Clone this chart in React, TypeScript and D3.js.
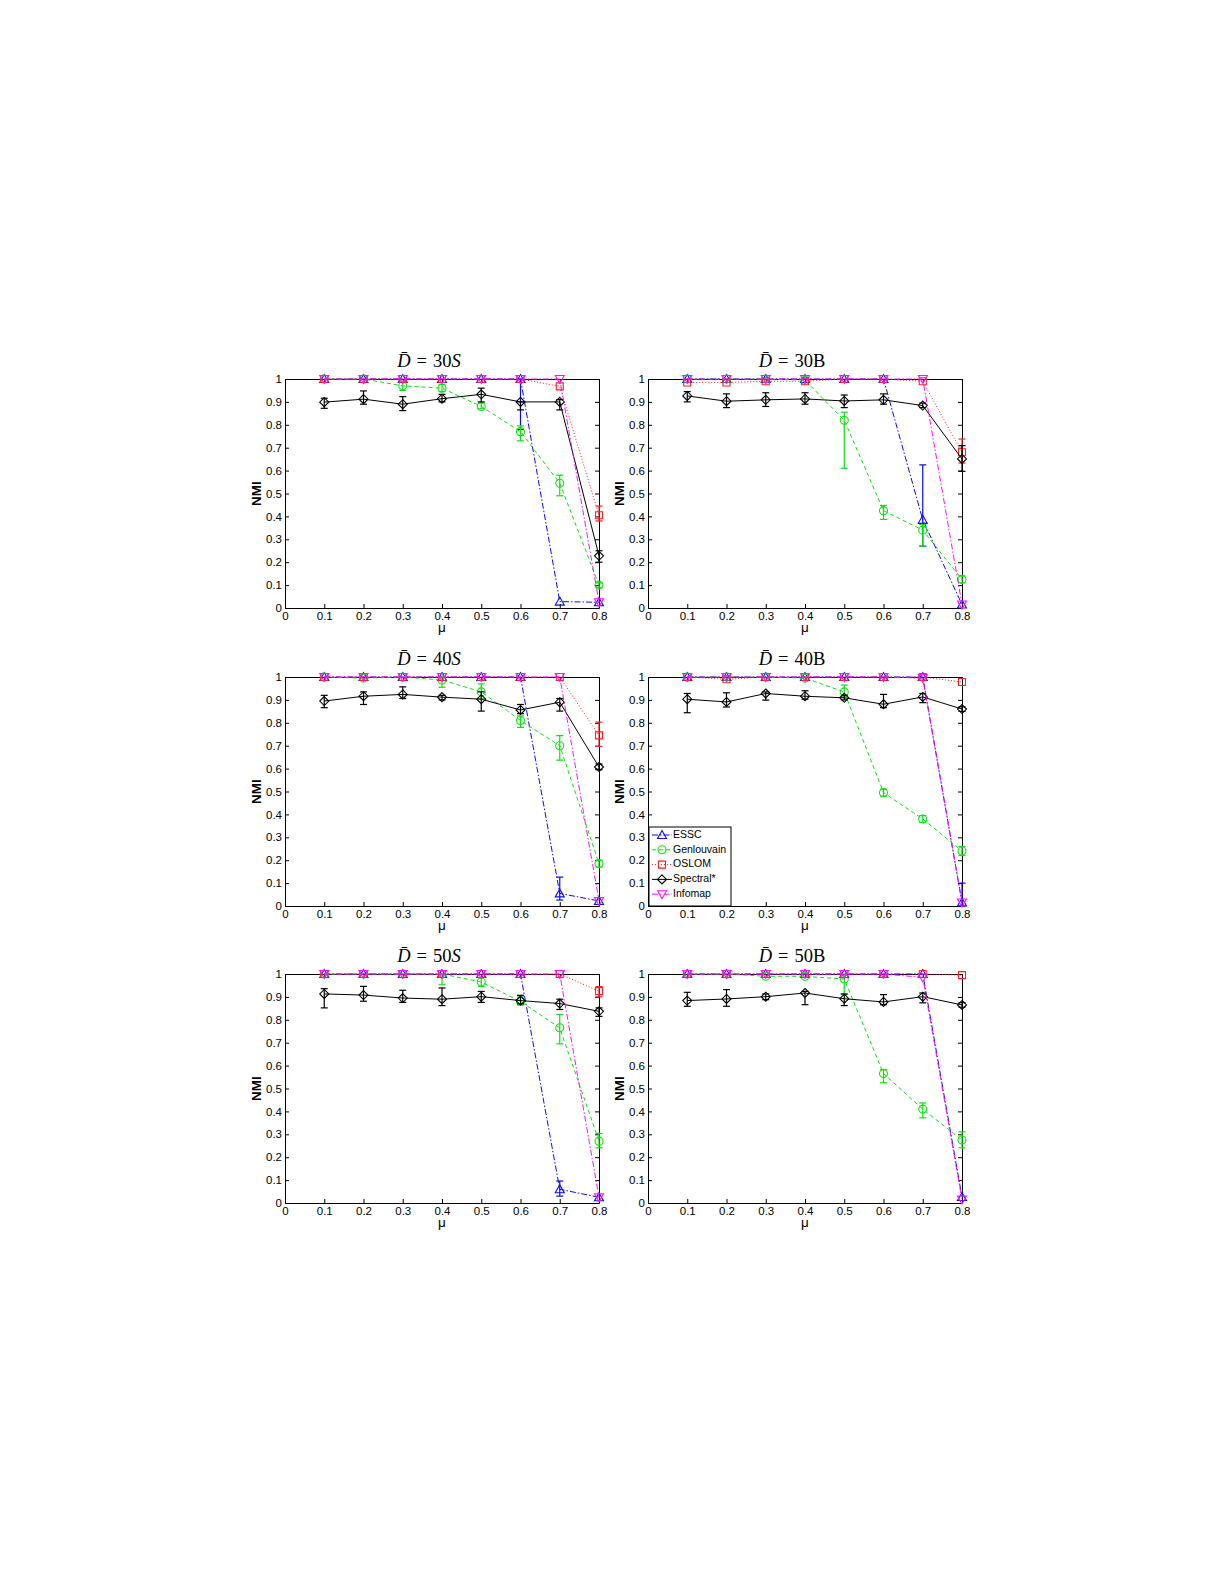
import React, { useEffect, useRef } from 'react';
import * as d3 from 'd3';

const MU = [0.1, 0.2, 0.3, 0.4, 0.5, 0.6, 0.7, 0.8];
const X_TICKS = [0, 0.1, 0.2, 0.3, 0.4, 0.5, 0.6, 0.7, 0.8];
const Y_TICKS = [0, 0.1, 0.2, 0.3, 0.4, 0.5, 0.6, 0.7, 0.8, 0.9, 1];
const METHODS = ['ESSC', 'Genlouvain', 'OSLOM', 'Spectral*', 'Infomap'];

// error bars are [index into MU, lower, upper]
type Err = [number, number, number];

// D = 30S
const essc30S = [1, 1, 1, 1, 1, 1, 0.028, 0.025];
const genlouvain30S = [1, 1, 0.97, 0.96, 0.88, 0.77, 0.545, 0.1];
const oslom30S = [1, 1, 1, 1, 1, 1, 0.968, 0.405];
const spectral30S = [0.899, 0.912, 0.89, 0.914, 0.933, 0.9, 0.9, 0.228];
const infomap30S = [1, 1, 1, 1, 1, 1, 1, 0.025];
const essc30SErr: Err[] = [[5, 0.78, 1]];
const genlouvain30SErr: Err[] = [[2, 0.95, 0.99], [3, 0.945, 0.975], [4, 0.87, 0.895], [5, 0.73, 0.795], [6, 0.49, 0.58], [7, 0.09, 0.11]];
const oslom30SErr: Err[] = [[7, 0.38, 0.445]];
const spectral30SErr: Err[] = [[0, 0.872, 0.916], [1, 0.89, 0.948], [2, 0.862, 0.923], [3, 0.9, 0.933], [4, 0.9, 0.96], [5, 0.865, 0.9], [6, 0.865, 0.91], [7, 0.2, 0.25]];

// D = 30B
const essc30B = [1, 1, 1, 1, 1, 1, 0.385, 0.015];
const genlouvain30B = [1, 1, 1, 0.995, 0.82, 0.425, 0.34, 0.125];
const oslom30B = [0.985, 0.985, 0.99, 0.99, 1, 1, 0.99, 0.68];
const spectral30B = [0.926, 0.903, 0.909, 0.913, 0.904, 0.909, 0.884, 0.651];
const infomap30B = [1, 1, 1, 1, 1, 1, 1, 0.015];
const essc30BErr: Err[] = [[6, 0.27, 0.625]];
const genlouvain30BErr: Err[] = [[4, 0.61, 0.855], [5, 0.387, 0.448], [6, 0.27, 0.365], [7, 0.11, 0.14]];
const oslom30BErr: Err[] = [[7, 0.633, 0.738]];
const spectral30BErr: Err[] = [[0, 0.9, 0.945], [1, 0.875, 0.935], [2, 0.88, 0.94], [3, 0.89, 0.94], [4, 0.875, 0.93], [5, 0.89, 0.935], [6, 0.875, 0.895], [7, 0.597, 0.709]];

// D = 40S
const essc40S = [1, 1, 1, 1, 1, 1, 0.055, 0.022];
const genlouvain40S = [1, 0.995, 1, 0.987, 0.935, 0.81, 0.7, 0.185];
const oslom40S = [1, 1, 1, 1, 1, 1, 1, 0.745];
const spectral40S = [0.895, 0.916, 0.924, 0.912, 0.903, 0.856, 0.89, 0.607];
const infomap40S = [1, 1, 1, 1, 1, 1, 1, 0.022];
const essc40SErr: Err[] = [[6, 0.026, 0.126]];
const genlouvain40SErr: Err[] = [[3, 0.955, 1], [4, 0.905, 0.97], [5, 0.78, 0.83], [6, 0.637, 0.744], [7, 0.17, 0.2]];
const oslom40SErr: Err[] = [[7, 0.697, 0.803]];
const spectral40SErr: Err[] = [[0, 0.866, 0.92], [1, 0.88, 0.935], [2, 0.906, 0.957], [3, 0.9, 0.92], [4, 0.851, 0.935], [5, 0.84, 0.88], [6, 0.851, 0.906], [7, 0.595, 0.62]];

// D = 40B
const essc40B = [1, 1, 1, 1, 1, 1, 1, 0.015];
const genlouvain40B = [1, 1, 1, 0.995, 0.935, 0.495, 0.38, 0.24];
const oslom40B = [1, 0.99, 1, 1, 1, 1, 1, 0.978];
const spectral40B = [0.903, 0.891, 0.928, 0.916, 0.909, 0.881, 0.913, 0.86];
const infomap40B = [1, 1, 1, 1, 1, 1, 0.995, 0.015];
const essc40BErr: Err[] = [[7, 0, 0.1]];
const genlouvain40BErr: Err[] = [[3, 0.985, 1], [4, 0.913, 0.965], [5, 0.48, 0.51], [6, 0.365, 0.395], [7, 0.22, 0.26]];
const oslom40BErr: Err[] = [];
const spectral40BErr: Err[] = [[0, 0.844, 0.928], [1, 0.869, 0.931], [2, 0.899, 0.935], [3, 0.903, 0.94], [4, 0.9, 0.92], [5, 0.866, 0.924], [6, 0.888, 0.928], [7, 0.85, 0.87]];

// D = 50S
const essc50S = [1, 1, 1, 1, 1, 1, 0.06, 0.025];
const genlouvain50S = [1, 1, 1, 1, 0.965, 0.88, 0.765, 0.27];
const oslom50S = [1, 1, 1, 1, 1, 1, 1, 0.925];
const spectral50S = [0.913, 0.908, 0.895, 0.89, 0.901, 0.884, 0.871, 0.837];
const infomap50S = [1, 1, 1, 1, 1, 1, 1, 0.025];
const essc50SErr: Err[] = [[6, 0.03, 0.096]];
const genlouvain50SErr: Err[] = [[3, 0.953, 0.997], [4, 0.945, 0.985], [5, 0.865, 0.9], [6, 0.695, 0.823], [7, 0.241, 0.304]];
const oslom50SErr: Err[] = [[7, 0.9, 0.945]];
const spectral50SErr: Err[] = [[0, 0.852, 0.936], [1, 0.881, 0.946], [2, 0.876, 0.929], [3, 0.862, 0.939], [4, 0.876, 0.924], [5, 0.87, 0.907], [6, 0.845, 0.89], [7, 0.815, 0.852]];

// D = 50B
const essc50B = [1, 1, 1, 1, 1, 1, 1, 0.026];
const genlouvain50B = [1, 1, 0.99, 0.99, 0.978, 0.565, 0.41, 0.275];
const oslom50B = [1, 1, 1, 1, 1, 1, 1, 0.995];
const spectral50B = [0.884, 0.891, 0.901, 0.917, 0.892, 0.878, 0.901, 0.865];
const infomap50B = [1, 1, 1, 1, 1, 1, 0.985, 0.015];
const essc50BErr: Err[] = [];
const genlouvain50BErr: Err[] = [[4, 0.91, 0.995], [5, 0.525, 0.583], [6, 0.372, 0.437], [7, 0.241, 0.311]];
const oslom50BErr: Err[] = [];
const spectral50BErr: Err[] = [[0, 0.859, 0.92], [1, 0.859, 0.932], [2, 0.888, 0.913], [3, 0.866, 0.924], [4, 0.862, 0.913], [5, 0.866, 0.91], [6, 0.874, 0.917], [7, 0.855, 0.875]];

const PANELS = [
  { degree: '30', kind: 'S', series: [essc30S, genlouvain30S, oslom30S, spectral30S, infomap30S], errors: [essc30SErr, genlouvain30SErr, oslom30SErr, spectral30SErr, []] },
  { degree: '30', kind: 'B', series: [essc30B, genlouvain30B, oslom30B, spectral30B, infomap30B], errors: [essc30BErr, genlouvain30BErr, oslom30BErr, spectral30BErr, []] },
  { degree: '40', kind: 'S', series: [essc40S, genlouvain40S, oslom40S, spectral40S, infomap40S], errors: [essc40SErr, genlouvain40SErr, oslom40SErr, spectral40SErr, []] },
  { degree: '40', kind: 'B', series: [essc40B, genlouvain40B, oslom40B, spectral40B, infomap40B], errors: [essc40BErr, genlouvain40BErr, oslom40BErr, spectral40BErr, []] },
  { degree: '50', kind: 'S', series: [essc50S, genlouvain50S, oslom50S, spectral50S, infomap50S], errors: [essc50SErr, genlouvain50SErr, oslom50SErr, spectral50SErr, []] },
  { degree: '50', kind: 'B', series: [essc50B, genlouvain50B, oslom50B, spectral50B, infomap50B], errors: [essc50BErr, genlouvain50BErr, oslom50BErr, spectral50BErr, []] },
];

const STYLES = [
  { color: '#0a0aff', dash: '6,2,1.5,2', marker: 'triUp' },
  { color: '#10e010', dash: '4,3', marker: 'circle' },
  { color: '#ff2020', dash: '1,2', marker: 'square' },
  { color: '#000000', dash: null, marker: 'diamond' },
  { color: '#ff10ff', dash: '6,2,1.5,2', marker: 'triDown' },
];

const SANS = '"Liberation Sans", Arial, Helvetica, sans-serif';
const SERIF = '"Liberation Serif", "Times New Roman", serif';

const markerPath = (kind: string) => {
  switch (kind) {
    case 'triUp': return 'M0,-4.5L4.5,3.5L-4.5,3.5Z';
    case 'triDown': return 'M0,4.5L4.5,-3.5L-4.5,-3.5Z';
    case 'circle': return 'M4,0A4,4 0 1,1 -4,0A4,4 0 1,1 4,0Z';
    case 'square': return 'M-3.5,-3.5H3.5V3.5H-3.5Z';
    default: return 'M0,-4.5L4.5,0L0,4.5L-4.5,0Z';
  }
};

const COL_LEFT = [285, 648];
const ROW_TOP = [379, 677, 974];
const W = 314;
const H = 229;

const App: React.FC = () => {
  const svgRef = useRef<SVGSVGElement>(null);

  useEffect(() => {
    if (!svgRef.current) return;
    const svg = d3.select(svgRef.current);
    svg.selectAll('*').remove();

    svg.append('rect').attr('width', 1225).attr('height', 1585).attr('fill', '#fff');

    PANELS.forEach((panel, p) => {
      const left = COL_LEFT[p % 2];
      const top = ROW_TOP[Math.floor(p / 2)];
      const g = svg.append('g').attr('transform', `translate(${left},${top})`);

      const x = d3.scaleLinear().domain([0, 0.8]).range([0, W]);
      const y = d3.scaleLinear().domain([0, 1]).range([H, 0]);

      const clipId = `clip-${p}`;
      g.append('clipPath').attr('id', clipId)
        .append('rect').attr('x', -8).attr('y', -1).attr('width', W + 16).attr('height', H + 2);

      // axes (ticks point inward, box on)
      const fmt = (d: d3.NumberValue) => String(d);
      const bottom = g.append('g').attr('transform', `translate(0,${H})`)
        .call(d3.axisBottom(x).tickValues(X_TICKS).tickSizeInner(-4).tickSizeOuter(0).tickPadding(4).tickFormat(fmt));
      const leftAx = g.append('g')
        .call(d3.axisLeft(y).tickValues(Y_TICKS).tickSizeInner(-4).tickSizeOuter(0).tickPadding(3).tickFormat(fmt));
      g.append('g')
        .call(d3.axisTop(x).tickValues(X_TICKS).tickSizeInner(-4).tickSizeOuter(0).tickFormat(() => ''));
      g.append('g').attr('transform', `translate(${W},0)`)
        .call(d3.axisRight(y).tickValues(Y_TICKS).tickSizeInner(-4).tickSizeOuter(0).tickFormat(() => ''));
      [bottom, leftAx].forEach((ax) => {
        ax.selectAll('text').attr('font-family', SANS).attr('font-size', 11.5).attr('fill', '#000');
      });
      g.selectAll('.domain, .tick line').attr('stroke', '#000').attr('stroke-width', 1);

      // axis labels
      g.append('text')
        .attr('transform', `translate(${-28},${H / 2}) rotate(-90)`)
        .attr('text-anchor', 'middle')
        .attr('dominant-baseline', 'middle')
        .attr('font-family', SANS).attr('font-size', 13.5).attr('font-weight', 'bold')
        .text('NMI');
      g.append('text')
        .attr('x', W / 2).attr('y', H + 24)
        .attr('text-anchor', 'middle')
        .attr('font-family', SANS).attr('font-size', 13.5)
        .text('μ');

      // title
      const title = g.append('text')
        .attr('x', W / 2 - 13).attr('y', -12)
        .attr('text-anchor', 'middle')
        .attr('font-family', SERIF).attr('font-size', 18.5);
      title.append('tspan').attr('font-style', 'italic').text('D\u0304');
      title.append('tspan').attr('dx', 6).text('=');
      title.append('tspan').attr('dx', 6).text(panel.degree);
      title.append('tspan').attr('font-style', panel.kind === 'S' ? 'italic' : 'normal').text(panel.kind);

      // series
      const line = d3.line<number>().x((_, i) => x(MU[i])).y((d) => y(d));
      panel.series.forEach((vals, s) => {
        const st = STYLES[s];
        const sg = g.append('g');
        sg.append('path')
          .attr('d', line(vals) || '')
          .attr('fill', 'none')
          .attr('stroke', st.color)
          .attr('stroke-width', 1)
          .attr('stroke-dasharray', st.dash)
          .attr('clip-path', `url(#${clipId})`);

        const eg = sg.append('g').attr('clip-path', `url(#${clipId})`)
          .attr('stroke', st.color).attr('stroke-width', 1.2);
        panel.errors[s].forEach(([i, lo, hi]) => {
          const cx = x(MU[i]);
          eg.append('line').attr('x1', cx).attr('x2', cx).attr('y1', y(lo)).attr('y2', y(hi));
          eg.append('line').attr('x1', cx - 3.5).attr('x2', cx + 3.5).attr('y1', y(lo)).attr('y2', y(lo));
          eg.append('line').attr('x1', cx - 3.5).attr('x2', cx + 3.5).attr('y1', y(hi)).attr('y2', y(hi));
        });

        sg.selectAll('path.mk')
          .data(vals)
          .enter()
          .append('path')
          .attr('class', 'mk')
          .attr('transform', (d, i) => `translate(${x(MU[i])},${y(d)})`)
          .attr('d', markerPath(st.marker))
          .attr('fill', 'none')
          .attr('stroke', st.color)
          .attr('stroke-width', 1.1);
      });

      // legend in the 40B panel
      if (p === 3) {
        const lg = g.append('g').attr('transform', `translate(1,${H - 79})`);
        lg.append('rect').attr('width', 82).attr('height', 79)
          .attr('fill', '#fff').attr('stroke', '#000').attr('stroke-width', 1);
        METHODS.forEach((name, s) => {
          const st = STYLES[s];
          const ly = 8 + s * 14.8;
          lg.append('line').attr('x1', 3).attr('x2', 23).attr('y1', ly).attr('y2', ly)
            .attr('stroke', st.color).attr('stroke-width', 1).attr('stroke-dasharray', st.dash);
          lg.append('path').attr('transform', `translate(13,${ly})`).attr('d', markerPath(st.marker))
            .attr('fill', 'none').attr('stroke', st.color).attr('stroke-width', 1.1);
          lg.append('text').attr('x', 24).attr('y', ly).attr('dominant-baseline', 'middle')
            .attr('font-family', SANS).attr('font-size', 10.5).text(name);
        });
      }
    });
  }, []);

  return (
    <svg
      ref={svgRef}
      width={1225}
      height={1585}
      style={{ position: 'absolute', left: 0, top: 0, display: 'block' }}
    />
  );
};

export default App;
